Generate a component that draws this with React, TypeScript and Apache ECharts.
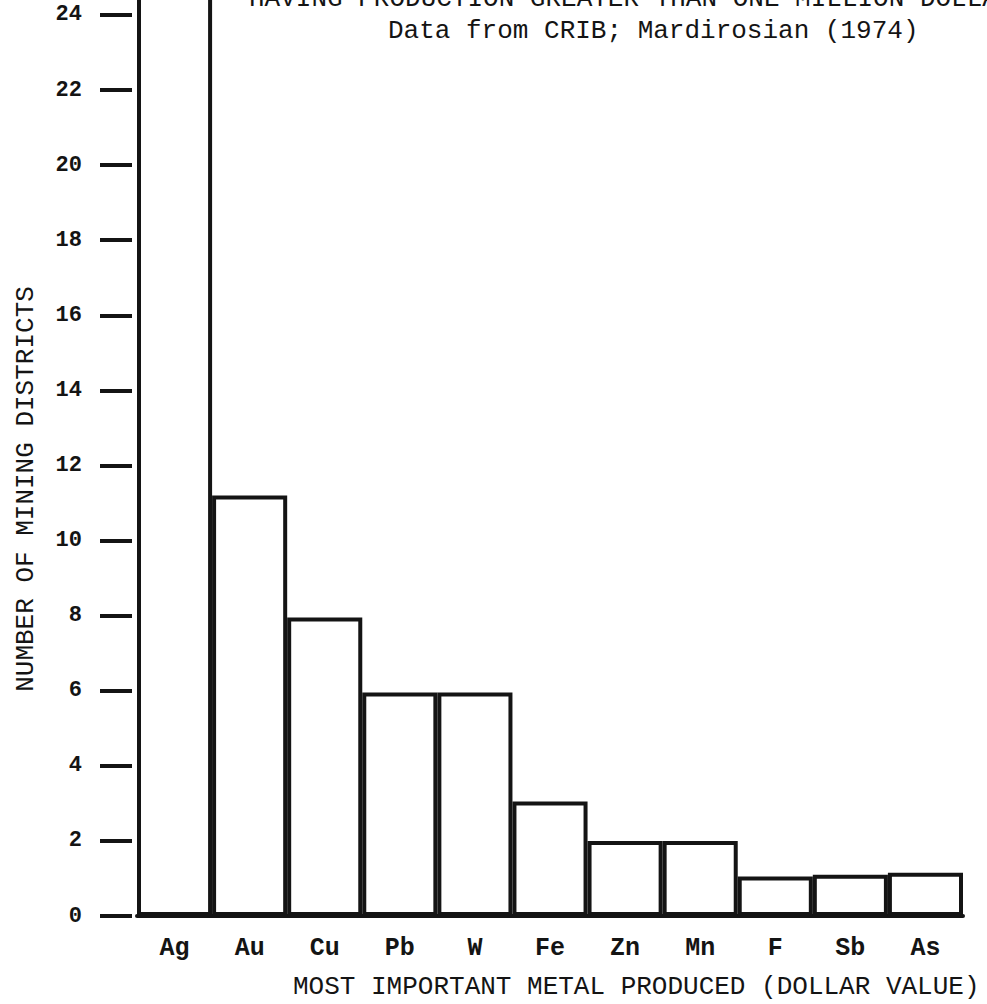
import React, { useEffect, useRef } from "react";
import * as echarts from "echarts";

const categories = ["Ag", "Au", "Cu", "Pb", "W", "Fe", "Zn", "Mn", "F", "Sb", "As"];
const districtCounts = [27, 11.2, 7.95, 5.95, 5.95, 3.05, 2, 2, 1.05, 1.1, 1.15];
const yTicks = [0, 2, 4, 6, 8, 10, 12, 14, 16, 18, 20, 22, 24];

const titleLine1 = "HAVING PRODUCTION GREATER THAN ONE MILLION DOLLARS";
const titleLine2 = "Data from CRIB; Mardirosian (1974)";
const xTitle = "MOST IMPORTANT METAL PRODUCED (DOLLAR VALUE)";
const yTitle = "NUMBER OF MINING DISTRICTS";

const FONT = '"Liberation Mono", "DejaVu Sans Mono", monospace';
const INK = "#141414";
const SHIFT = 20; // chart div is raised by this much so the Ag bar runs off the page top

export default function App() {
  const ref = useRef<HTMLDivElement>(null);

  useEffect(() => {
    document.body.style.margin = "0";
    document.body.style.overflow = "hidden";
    if (!ref.current) return;
    const chart = echarts.init(ref.current, undefined, { renderer: "svg" });
    chart.setOption({
      animation: false,
      backgroundColor: "#ffffff",
      grid: { left: 137, right: 24, top: 0, bottom: 88, containLabel: false },
      xAxis: {
        type: "category",
        data: categories,
        axisLine: { show: true, lineStyle: { color: INK, width: 4 } },
        axisTick: { show: false },
        axisLabel: {
          color: INK,
          fontFamily: FONT,
          fontWeight: "bold",
          fontSize: 25,
          margin: 20,
        },
        splitLine: { show: false },
      },
      yAxis: {
        type: "value",
        min: 0,
        max: 24.93,
        offset: 5,
        axisLine: { show: false },
        splitLine: { show: false },
        axisTick: {
          show: true,
          length: 32,
          customValues: yTicks,
          lineStyle: { color: INK, width: 4 },
        },
        axisLabel: {
          customValues: yTicks,
          margin: 50,
          color: INK,
          fontFamily: FONT,
          fontWeight: "bold",
          fontSize: 22,
        },
      },
      series: [
        {
          type: "bar",
          data: districtCounts,
          barCategoryGap: "0%",
          clip: true,
          itemStyle: { color: "#ffffff", borderColor: INK, borderWidth: 4 },
        },
      ],
      graphic: [
        {
          type: "text",
          x: 249,
          y: -1 + SHIFT,
          style: {
            text: titleLine1,
            fontFamily: FONT,
            fontSize: 26,
            fill: INK,
            align: "left",
            verticalAlign: "middle",
          },
        },
        {
          type: "text",
          x: 388,
          y: 31 + SHIFT,
          style: {
            text: titleLine2,
            fontFamily: FONT,
            fontSize: 26,
            fill: INK,
            align: "left",
            verticalAlign: "middle",
          },
        },
        {
          type: "text",
          x: 293,
          y: 987 + SHIFT,
          style: {
            text: xTitle,
            fontFamily: FONT,
            fontSize: 26,
            fill: INK,
            align: "left",
            verticalAlign: "middle",
          },
        },
        {
          type: "text",
          x: 26,
          y: 489 + SHIFT,
          rotation: Math.PI / 2,
          style: {
            text: yTitle,
            fontFamily: FONT,
            fontSize: 26,
            fill: INK,
            align: "center",
            verticalAlign: "middle",
          },
        },
      ],
    });
    return () => chart.dispose();
  }, []);

  return (
    <div
      ref={ref}
      style={{ width: 987, height: 1004 + SHIFT, marginTop: -SHIFT }}
    />
  );
}
